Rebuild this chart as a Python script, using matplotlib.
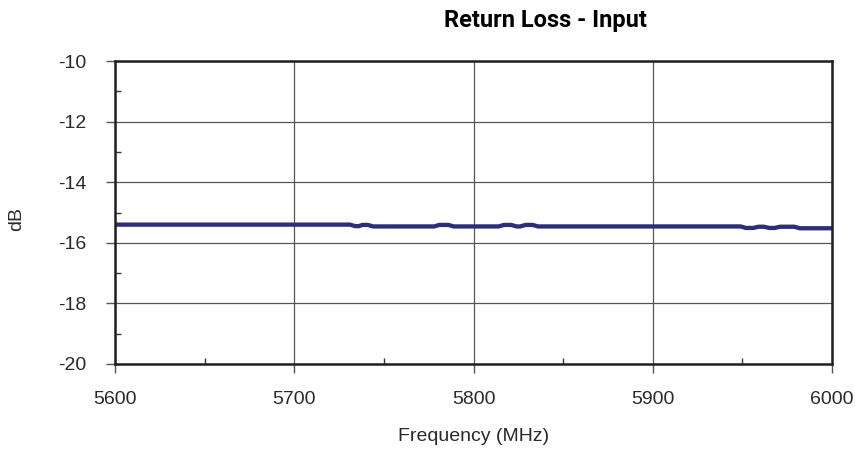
import matplotlib
matplotlib.use("Agg")
import matplotlib.pyplot as plt
from matplotlib.ticker import MultipleLocator

plt.rcParams['font.family'] = ['Liberation Sans', 'DejaVu Sans']
plt.rcParams['axes.unicode_minus'] = False

freq = [5600, 5731, 5734, 5736, 5738, 5741, 5744, 5778, 5781, 5786, 5789,
        5814, 5817, 5821, 5824, 5826, 5829, 5833, 5836, 5949, 5952, 5956,
        5959, 5962, 5965, 5968, 5971, 5979, 5982, 6000]
loss = [-15.40, -15.40, -15.45, -15.45, -15.41, -15.41, -15.46, -15.46,
        -15.41, -15.41, -15.46, -15.46, -15.41, -15.41, -15.46, -15.46,
        -15.41, -15.41, -15.46, -15.46, -15.51, -15.51, -15.47, -15.47,
        -15.51, -15.51, -15.47, -15.47, -15.52, -15.52]

fig = plt.figure(figsize=(8.55, 4.54), dpi=100)
ax = fig.add_axes([115/855, 1-364/454, 717/855, 303/454])

ax.plot(freq, loss, color='#2c2f78', lw=3.1, solid_joinstyle='round')

ax.set_xlim(5600, 6000)
ax.set_ylim(-20, -10)
ax.xaxis.set_major_locator(MultipleLocator(100))
ax.xaxis.set_minor_locator(MultipleLocator(50))
ax.yaxis.set_major_locator(MultipleLocator(2))
ax.yaxis.set_minor_locator(MultipleLocator(1))
ax.grid(True, which='major', color='#555555', lw=0.9)
ax.tick_params(which='major', direction='out', length=6.5, width=1,
               color='#555555', labelsize=14, labelcolor='#2a2a2a')
ax.tick_params(axis='x', which='major', pad=13)
ax.tick_params(axis='y', which='major', pad=14)
ax.tick_params(which='minor', direction='in', length=4, width=1, color='#333333')
for s in ax.spines.values():
    s.set_color('#231f20')
    s.set_linewidth(1.8)

ax.set_xlabel('Frequency (MHz)', fontsize=14, color='#2a2a2a')
ax.xaxis.set_label_coords(0.5, (364-428)/303)
ax.set_ylabel('dB', fontsize=14, color='#2a2a2a')
ax.yaxis.set_label_coords((25-115)/717, (364-219)/303)
fig.text(545/855, 1-20/454, 'Return Loss - Input', ha='center', va='center',
         fontsize=17, fontweight='bold', family=['Roboto', 'DejaVu Sans'])

fig.savefig('out.png', dpi=100)
